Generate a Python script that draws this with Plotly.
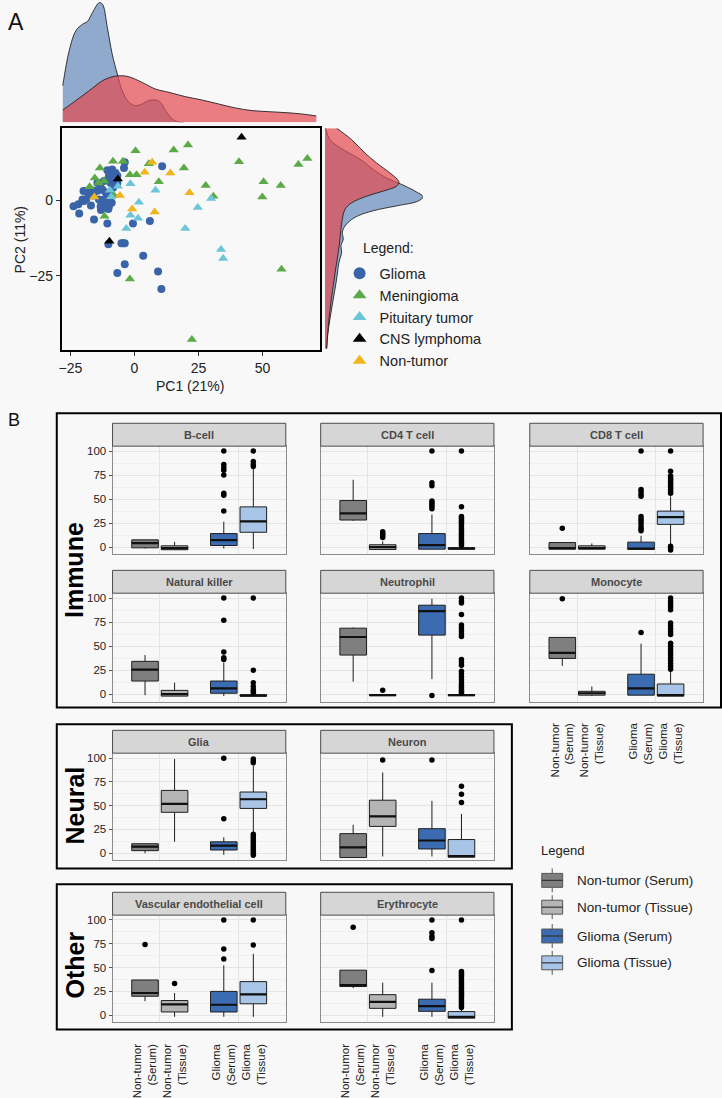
import plotly.graph_objects as go

W, H = 722, 1098
FONT = "Liberation Sans, Arial, Helvetica, sans-serif"
BG = "#f8f8f8"

# ---------------- Panel A data (PC1, PC2) ----------------
glioma_pts = [(-23.8,-2.0),(-21.9,-1.4),(-21.6,-4.4),(-19.9,3.0),(-19.0,3.0),(-20.3,0.2),(-19.7,-0.3),
              (-18.8,0.4),(-17.7,1.9),(-17.5,3.3),(-16.5,3.2),(-16.2,1.5),(-17.0,-1.8),(-15.2,3.0),
              (-14.2,3.2),(-15.8,-6.4),(-13.9,0.2),(-13.2,-2.0),(-13.1,-3.3),(-12.8,-1.8),(-11.9,0.2),
              (-11.5,-0.9),(-11.3,-2.5),(-10.6,1.1),(-10.2,-2.9),(-10.0,-2.0),(-9.3,1.5),(-9.3,5.7),
              (-10.2,7.0),(-10.6,9.9),(-10.0,7.9),(-8.7,10.1),(-8.0,8.4),(-7.4,9.0),(-6.7,8.1),(-8.4,4.1),
              (-8.7,6.3),(-6.7,5.7),(-4.1,10.6),(-3.8,12.5),(-4.5,-14.3),(-3.8,-14.3),(-5.1,-14.3),
              (-3.8,-21.2),(-10.2,-14.6),(-10.6,-7.7),(-6.7,-24.1),(-0.6,-7.7),(3.4,-18.4),(6.0,-6.9),
              (9.2,-23.6),(10.5,-29.4),(10.8,11.2),(-8.9,-0.9),(-11.3,2.6),(-12.6,3.5),(-13.2,5.7),
              (-11.9,6.3),(-14.5,5.7)]
meningioma_pts = [(0.4,16.3),(15.3,16.6),(20.9,18.2),(-8.4,12.9),(-13.5,10.6),(-4.5,12.9),(5.6,12.0),
                  (19.3,10.6),(-1.8,8.4),(0.8,8.4),(-15.5,7.3),(-14.1,5.7),(-11.9,6.3),(9.5,6.1),
                  (27.8,4.8),(30.8,1.3),(40.8,12.7),(50.4,6.1),(57.1,4.8),(49.9,1.0),(64.0,11.8),
                  (67.5,13.8),(57.4,-22.9),(-11.7,-5.3),(-1.8,-26.1),(22.4,-46.1),(-17.5,4.4),(-8.0,1.5)]
pituitary_pts = [(-9.6,3.3),(-6.5,4.6),(-1.6,5.4),(8.2,3.3),(1.7,-0.7),(-1.6,-5.0),(1.4,-6.0),
                 (-3.2,-9.4),(24.7,-2.4),(29.9,0.5),(19.8,-9.4),(33.8,-16.3),(34.6,-19.3),(-9.1,1.1)]
cns_pts = [(41.8,20.8),(-6.5,7.0),(-9.8,-13.6)]
nontumor_pts = [(6.9,12.5),(4.0,9.2),(14.0,9.0),(21.5,2.4),(-5.7,1.5),(-15.7,1.0),(-0.9,-2.9),(7.9,-3.9)]

# marginal densities (relative height)
pc1_grid_glioma = [-28.0,-25.5,-22.9,-20.3,-18.4,-16.4,-13.8,-12.5,-10.6,-8.7,-6.7,-4.8,-2.2,0.4,3.0,5.6,8.2,10.1,12.1,14.7,17.3,19.2]
dens_pc1_glioma = [0.304,0.594,0.760,0.815,0.837,0.912,0.994,0.981,0.787,0.566,0.401,0.262,0.166,0.138,0.152,0.180,0.185,0.166,0.097,0.028,0.0,0.0]
pc1_grid_other = [-28.0,-22.9,-17.7,-12.5,-8.7,-5.4,-2.2,3.0,8.2,13.4,19.8,26.3,32.8,39.3,45.8,52.3,58.7,65.2,71.0]
dens_pc1_other = [0.102,0.180,0.262,0.345,0.378,0.387,0.378,0.331,0.276,0.249,0.213,0.185,0.152,0.119,0.097,0.088,0.080,0.069,0.052]
pc2_grid_other = [23.8,20.0,15.6,12.3,9.0,6.8,5.7,4.6,3.0,1.3,-0.9,-3.1,-6.4,-9.6,-12.9,-17.3,-22.8,-28.3,-33.8,-39.3,-44.7,-49.1]
dens_pc2_other = [0.119,0.272,0.408,0.527,0.663,0.741,0.755,0.731,0.595,0.425,0.272,0.204,0.177,0.163,0.153,0.136,0.109,0.085,0.061,0.041,0.027,0.017]
pc2_grid_glioma = [23.8,20.0,16.7,14.5,12.8,10.1,7.3,5.2,3.0,1.1,-0.3,-1.8,-3.1,-4.7,-6.4,-8.6,-10.7,-12.9,-15.1,-17.3,-20.6,-26.1,-32.7,-39.3,-44.7,-49.1]
dens_pc2_glioma = [0.007,0.051,0.187,0.306,0.391,0.493,0.629,0.782,0.918,1.0,0.952,0.748,0.544,0.374,0.272,0.204,0.177,0.187,0.163,0.170,0.143,0.119,0.085,0.051,0.027,0.017]

# ---------------- Panel B data ----------------
facet_names = ["B-cell", "CD4 T cell", "CD8 T cell", "Natural killer", "Neutrophil", "Monocyte",
               "Glia", "Neuron", "Vascular endothelial cell", "Erythrocyte"]
group_names = ["Non-tumor (Serum)", "Non-tumor (Tissue)", "Glioma (Serum)", "Glioma (Tissue)"]
tick_labels = ["Non-tumor<br>(Serum)", "Non-tumor<br>(Tissue)", "Glioma<br>(Serum)", "Glioma<br>(Tissue)"]
group_colors = ["#7f7f7f", "#b4b4b4", "#3b6bb0", "#a8c5e8"]

box_low = [[-1.4,-2.7,-1.4,-2], [27.2,-2.4,-2.1,-2], [-2.1,-2.1,-2.4,3.1], [-1,-2,-2,-2],
           [13,-1.5,15.7,-1.5], [29.4,-2,-1,-2], [0,12,-1.7,22.3], [-4.5,-3.4,-3.4,-4.1],
           [14.7,-1.7,-1.7,-1.7], [28.4,-1.7,-1.7,-3.1]]
box_q1 = [[-0.7,-2.7,1.7,15.5], [28.2,-2.4,-2.1,-2], [-2.1,-2.1,-2.4,23.7], [13.7,-2,1,-2],
          [40.7,-1.5,61.5,-1.5], [37.2,-1,-1,-2], [2.7,43,3.4,47.1], [-4.5,28.2,4.5,-4.1],
          [19.9,3.4,3.4,12], [30.1,7.2,4.1,-3.1]]
box_median = [[4.1,-1.0,7.2,26.8], [35.1,0,2.1,-1.5], [-1,-1,-1.4,31.3], [25.6,0,6,-1.5],
              [59.5,-1,86.4,-1], [43.1,1,6,-1], [6.9,51.9,7.9,56.7], [6.2,38.8,13.4,-3.1],
              [23.3,11.3,11,21.9], [31.5,14,9.6,-1.7]]
box_q3 = [[7.6,1.4,14.1,41.9], [48.5,2.5,14.1,-0.5], [4.8,1.4,5.2,37.5], [34.2,4,13.7,-0.5],
          [68.7,-0.5,92.6,-0.5], [59.1,3,20.8,10.6], [10,66,12,64.3], [20.6,55.7,25.8,14.4],
          [37,15.4,25,35.3], [47.3,21.6,16.8,3.8]]
box_high = [[7.6,5.5,26.5,82], [70.1,6,34,-0.5], [4.8,3.8,11.7,52.9], [40.7,12,32.8,-0.5],
            [69.4,-0.5,99.4,-0.5], [59.1,8,52.6,24], [10,99,16.8,92], [29.9,84.9,55,41.2],
            [37,23.3,52.4,64.4], [47.3,34.2,34.2,6.8]]

outliers_bcell = [[], [], [100,86,83,80,75,56,54,37.5], [100,89,86,84]]
outliers_cd4 = [[], [10,12,14,16], [100,67,64,48,46,44,42,40],
                [100,42,32,30,28,26,24,22,20,18,16,14,12,10,8,6,4,2]]
outliers_cd8 = [[19.6], [], [100,60,58,55,53,32,29,27,24,21,19,17],
                [100,79,74,72,70,68,66,64,62,60,58,56,1,-1,-3]]
outliers_nk = [[], [], [100,77,44,38,36], [100,25,12,8,5,3,1]]
outliers_neutrophil = [[], [4], [-1.3], [100,97,95,83,72,69,66,63,60,36,33,30,24,21,18,15,12,9,7,5,3,1]]
outliers_monocyte = [[99.4], [], [64.2], [100,97,94,91,88,74,71,68,65,62,53,50,47,44,41,38,35,32,29,26]]
outliers_glia = [[], [], [99.7,36.1], [99,97,95,20,18,16,14,12,10,8,6,4,2,0,-2]]
outliers_neuron = [[], [97.9], [97.9], [70.4,61.9,53.3]]
outliers_vascular = [[74.3], [33.2], [100,69.5,58.9], [100,73.6]]
outliers_erythrocyte = [[92.5], [], [100,86.6,83,80.5,46.9],
                        [100,46,44,42,40,38,36,34,32,30,28,26,24,22,20,18,16,14,12,10,8]]
facet_outliers = [outliers_bcell, outliers_cd4, outliers_cd8, outliers_nk, outliers_neutrophil,
                  outliers_monocyte, outliers_glia, outliers_neuron, outliers_vascular, outliers_erythrocyte]

# ---------------- helpers ----------------
def X(p):
    return p / W


def Y(p):
    return 1 - p / H


def note(text, px, py, size, color="#222", angle=0, xanchor="center", yanchor="middle"):
    return dict(text=text, x=X(px), y=Y(py), xref="paper", yref="paper", xanchor=xanchor,
                yanchor=yanchor, showarrow=False, textangle=angle, font=dict(size=size, color=color))


fig = go.Figure()
layout = {}
shapes = []
annotations = []

# ---------------- Panel A ----------------
SC_L, SC_R, SC_T, SC_B = 59, 318, 128, 351
pc1_range = [-28.4, 72.3]
pc2_range = [-49.5, 23.8]

dens_blue = "rgba(75,118,178,0.60)"
dens_red = "rgba(228,72,80,0.70)"

fig.add_trace(go.Scatter(x=pc1_grid_glioma, y=dens_pc1_glioma, mode="lines", fill="tozeroy",
                         fillcolor=dens_blue, line=dict(color="#222", width=0.9, shape="spline"),
                         xaxis="x2", yaxis="y2", showlegend=False, hoverinfo="skip"))
fig.add_trace(go.Scatter(x=pc1_grid_other, y=dens_pc1_other, mode="lines", fill="tozeroy",
                         fillcolor=dens_red, line=dict(color="#222", width=0.9, shape="spline"),
                         xaxis="x2", yaxis="y2", showlegend=False, hoverinfo="skip"))
fig.add_trace(go.Scatter(x=dens_pc2_glioma, y=pc2_grid_glioma, mode="lines", fill="tozerox",
                         fillcolor=dens_blue, line=dict(color="#222", width=0.9, shape="spline"),
                         xaxis="x3", yaxis="y3", showlegend=False, hoverinfo="skip"))
fig.add_trace(go.Scatter(x=dens_pc2_other, y=pc2_grid_other, mode="lines", fill="tozerox",
                         fillcolor=dens_red, line=dict(color="#222", width=0.9, shape="spline"),
                         xaxis="x3", yaxis="y3", showlegend=False, hoverinfo="skip"))

scatter_groups = [
    ("Glioma", glioma_pts, "circle", "#3a64a8", 8),
    ("Meningioma", meningioma_pts, "triangle-up", "#5aaa46", 9),
    ("Pituitary tumor", pituitary_pts, "triangle-up", "#6cc5d9", 9),
    ("CNS lymphoma", cns_pts, "triangle-up", "#000000", 9),
    ("Non-tumor", nontumor_pts, "triangle-up", "#f2b41c", 9),
]
for name, pts, sym, col, size in scatter_groups:
    fig.add_trace(go.Scatter(x=[p[0] for p in pts], y=[p[1] for p in pts], mode="markers", name=name,
                             marker=dict(symbol=sym, color=col, size=size, line=dict(width=0)),
                             xaxis="x", yaxis="y", hoverinfo="skip"))

layout["xaxis"] = dict(domain=[X(SC_L), X(SC_R)], range=pc1_range, anchor="y", showgrid=False,
                       zeroline=False, showline=True, mirror=True, linecolor="#000", linewidth=2,
                       tickvals=[-25, 0, 25, 50], ticks="outside", ticklen=4, tickcolor="#333",
                       tickfont=dict(size=14, color="#222"))
layout["yaxis"] = dict(domain=[Y(SC_B), Y(SC_T)], range=pc2_range, anchor="x", showgrid=False,
                       zeroline=False, showline=True, mirror=True, linecolor="#000", linewidth=2,
                       tickvals=[-25, 0], ticks="outside", ticklen=4, tickcolor="#333",
                       tickfont=dict(size=14, color="#222"))
layout["xaxis2"] = dict(domain=[X(SC_L), X(SC_R)], range=pc1_range, anchor="y2", visible=False)
layout["yaxis2"] = dict(domain=[Y(122), Y(1)], range=[0, 1.0], anchor="x2", visible=False)
layout["xaxis3"] = dict(domain=[X(323.3), X(421.7)], range=[0, 1.0], anchor="y3", visible=False)
layout["yaxis3"] = dict(domain=[Y(SC_B), Y(SC_T)], range=pc2_range, anchor="x3", visible=False)

annotations += [
    note("A", 3, 6, 23, "#111", xanchor="left", yanchor="top"),
    note("PC1 (21%)", 188, 387, 14),
    note("PC2 (11%)", 18, 240, 14, angle=-90),
    note("Legend:", 359, 249, 14, xanchor="left"),
    note("B", 3, 410, 18, "#111", xanchor="left", yanchor="top"),
]

# ---------------- Panel B ----------------
cols_px = [(110, 284), (319, 493), (529, 703)]
rows_px = {"imm1": (425, 448, 557), "imm2": (573, 596, 705), "neu": (734, 757, 865), "oth": (897, 920, 1028)}
facet_pos = [(0, "imm1", True, False), (1, "imm1", False, False), (2, "imm1", False, False),
             (0, "imm2", True, False), (1, "imm2", False, False), (2, "imm2", False, True),
             (0, "neu", True, False), (1, "neu", False, False),
             (0, "oth", True, True), (1, "oth", False, True)]
offsets = [-0.1875, 0.1875]
box_w = 0.3375
positions = [1 + offsets[0], 1 + offsets[1], 2 + offsets[0], 2 + offsets[1]]

for i, name in enumerate(facet_names):
    col, rk, show_y, show_x = facet_pos[i]
    n = 4 + i
    x0, x1 = cols_px[col]
    st, pt, pb = rows_px[rk]
    xa, ya = f"x{n}", f"y{n}"
    for g in range(4):
        fig.add_trace(go.Box(x=[positions[g]], q1=[box_q1[i][g]], median=[box_median[i][g]],
                             q3=[box_q3[i][g]], lowerfence=[box_low[i][g]], upperfence=[box_high[i][g]],
                             width=box_w, fillcolor=group_colors[g], line=dict(color="#1e1e1e", width=1),
                             whiskerwidth=0, boxpoints=False, xaxis=xa, yaxis=ya,
                             showlegend=False, hoverinfo="skip"))
        fig.add_trace(go.Scatter(x=[positions[g] - box_w / 2, positions[g] + box_w / 2],
                                 y=[box_median[i][g], box_median[i][g]], mode="lines",
                                 line=dict(color="#111", width=2.2), xaxis=xa, yaxis=ya,
                                 showlegend=False, hoverinfo="skip"))
        outs = facet_outliers[i][g]
        if outs:
            fig.add_trace(go.Scatter(x=[positions[g]] * len(outs), y=outs, mode="markers",
                                     marker=dict(color="#000", size=5.5, line=dict(width=0)),
                                     xaxis=xa, yaxis=ya, showlegend=False, hoverinfo="skip"))
    layout[f"xaxis{n}"] = dict(domain=[X(x0), X(x1)], range=[0.4, 2.6], anchor=ya, showgrid=False,
                               zeroline=False, showline=True, mirror=True, linecolor="#8c8c8c", linewidth=1,
                               tickmode="array", tickvals=positions, ticktext=tick_labels,
                               showticklabels=show_x, ticks="", tickangle=-90, ticklabelstandoff=16,
                               tickfont=dict(size=11.5, color="#222"),
                               minor=dict(tickmode="array", tickvals=[1, 2], showgrid=True,
                                          gridcolor="#e4e4e4", gridwidth=0.8, ticks=""))
    layout[f"yaxis{n}"] = dict(domain=[Y(pb), Y(pt)], range=[-7.6, 105.1], anchor=xa, showgrid=True,
                               gridcolor="#e4e4e4", gridwidth=0.8, zeroline=False, showline=True,
                               mirror=True, linecolor="#8c8c8c", linewidth=1,
                               tickvals=[0, 25, 50, 75, 100], showticklabels=show_y,
                               ticks="outside" if show_y else "", ticklen=3, tickcolor="#555",
                               tickfont=dict(size=11.5, color="#222"),
                               minor=dict(tickmode="array", tickvals=[12.5, 37.5, 62.5, 87.5],
                                          showgrid=True, gridcolor="#efefef", gridwidth=0.6, ticks=""))
    # strip
    shapes.append(dict(type="rect", xref="paper", yref="paper", x0=X(x0), x1=X(x1), y0=Y(pt), y1=Y(st),
                       fillcolor="#d6d6d6", line=dict(color="#4d4d4d", width=1), layer="above"))
    annotations.append(note(f"<b>{name}</b>", (x0 + x1) / 2, (st + pt) / 2 + 0.5, 11, "#4a4a4a"))

# section frames
sections = [("Immune", 54, 415, 721, 711, 573), ("Neural", 54, 728, 511, 873, 810),
            ("Other", 54, 889, 511, 1035, 970)]
for label, l, t, r, b, cy in sections:
    shapes.append(dict(type="rect", xref="paper", yref="paper", x0=X(l), x1=X(r), y0=Y(b), y1=Y(t),
                       line=dict(color="#000", width=2), fillcolor="rgba(0,0,0,0)", layer="above"))
    annotations.append(note(f"<b>{label}</b>", 72, cy, 25, "#000", angle=-90))

# Panel B legend (drawn)
annotations.append(note("Legend", 538, 855, 13, xanchor="left"))
leg_rows = [885, 912, 941, 968]
for g in range(4):
    cy = leg_rows[g]
    shapes.append(dict(type="line", xref="paper", yref="paper", x0=X(551.5), x1=X(551.5), y0=Y(cy + 12),
                       y1=Y(cy - 12), line=dict(color="#555", width=1)))
    shapes.append(dict(type="rect", xref="paper", yref="paper", x0=X(541), x1=X(562), y0=Y(cy + 7),
                       y1=Y(cy - 7), fillcolor=group_colors[g], line=dict(color="#555", width=1)))
    shapes.append(dict(type="line", xref="paper", yref="paper", x0=X(541), x1=X(562), y0=Y(cy),
                       y1=Y(cy), line=dict(color="#333", width=1.2)))
    annotations.append(note(group_names[g], 574, cy, 13.5, xanchor="left"))

layout.update(dict(
    width=W, height=H, autosize=False, margin=dict(l=0, r=0, t=0, b=0),
    paper_bgcolor=BG, plot_bgcolor=BG, font=dict(family=FONT, color="#222"),
    showlegend=True,
    legend=dict(x=X(338), y=Y(258), xanchor="left", yanchor="top", bgcolor="rgba(0,0,0,0)",
                font=dict(size=14.5, color="#222"), itemsizing="constant", tracegroupgap=0),
    boxmode="overlay", shapes=shapes, annotations=annotations,
))
fig.update_layout(**layout)

fig.write_html("out.html", include_plotlyjs=True, config={"displayModeBar": False},
               post_script="document.body.style.margin='0';document.body.style.overflow='hidden';")
